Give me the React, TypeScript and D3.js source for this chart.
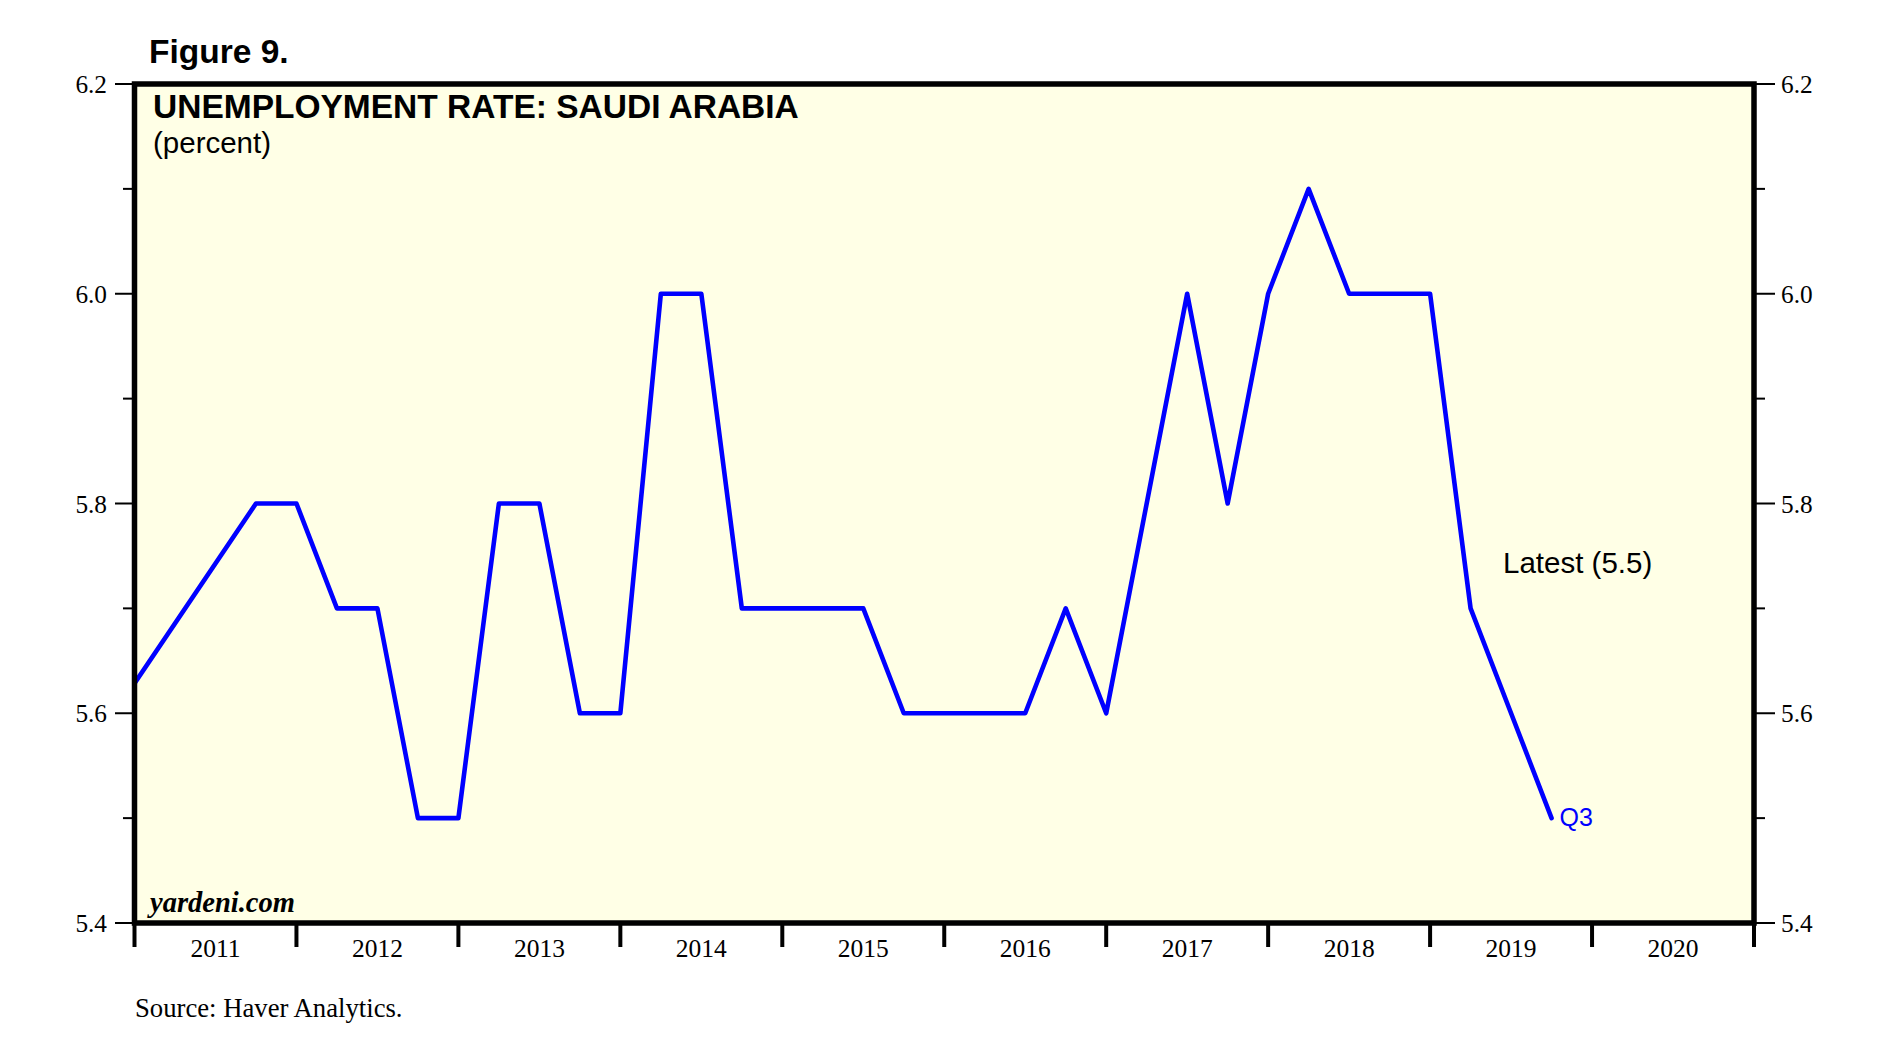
import React from "react";
import * as d3 from "d3";

const periods = [
  "2009-Q4", "2011-Q3", "2011-Q4", "2012-Q1", "2012-Q2", "2012-Q3", "2012-Q4",
  "2013-Q1", "2013-Q2", "2013-Q3", "2013-Q4", "2014-Q1", "2014-Q2", "2014-Q3",
  "2014-Q4", "2015-Q1", "2015-Q2", "2015-Q3", "2015-Q4", "2016-Q1", "2016-Q2",
  "2016-Q3", "2016-Q4", "2017-Q1", "2017-Q2", "2017-Q3", "2017-Q4", "2018-Q1",
  "2018-Q2", "2018-Q3", "2018-Q4", "2019-Q1", "2019-Q2", "2019-Q3",
];
const rates = [
  5.4, 5.8, 5.8, 5.7, 5.7, 5.5, 5.5,
  5.8, 5.8, 5.6, 5.6, 6.0, 6.0, 5.7,
  5.7, 5.7, 5.7, 5.6, 5.6, 5.6, 5.6,
  5.7, 5.6, 5.8, 6.0, 5.8, 6.0, 6.1,
  6.0, 6.0, 6.0, 5.7, 5.6, 5.5,
];
const yearLabels = ["2011", "2012", "2013", "2014", "2015", "2016", "2017", "2018", "2019", "2020"];
const yMajorTicks = [5.4, 5.6, 5.8, 6.0, 6.2];
const yMinorTicks = [5.5, 5.7, 5.9, 6.1];

const W = 1902;
const H = 1053;
const L = 134.5;
const R = 1754;
const T = 84;
const B = 923;

const SANS = "'Liberation Sans', Arial, sans-serif";
const SERIF = "'Liberation Serif', 'Times New Roman', serif";

function toX(p: string) {
  const [y, q] = p.split("-Q");
  return +y + +q / 4;
}

export default function App() {
  const x = d3.scaleLinear().domain([2011, 2021]).range([L, R]);
  const y = d3.scaleLinear().domain([5.4, 6.2]).range([B, T]);
  const pts: [number, number][] = periods.map((p, i) => [toX(p), rates[i]]);
  const line = d3
    .line<[number, number]>()
    .x((d) => x(d[0]))
    .y((d) => y(d[1]));
  const last = pts[pts.length - 1];
  const yearStarts = d3.range(2011, 2022);

  return (
    <svg
      width={W}
      height={H}
      style={{ position: "absolute", left: 0, top: 0, background: "#fff" }}
    >
      <defs>
        <clipPath id="plotclip">
          <rect x={L} y={T} width={R - L} height={B - T} />
        </clipPath>
      </defs>
      <rect x={L} y={T} width={R - L} height={B - T} fill="#FFFFE6" />

      <text x={149} y={63} fontFamily={SANS} fontWeight="bold" fontSize={33.5} fill="#000">
        Figure 9.
      </text>
      <text x={153} y={118} fontFamily={SANS} fontWeight="bold" fontSize={33.5} fill="#000">
        UNEMPLOYMENT RATE: SAUDI ARABIA
      </text>
      <text x={153} y={153} fontFamily={SANS} fontSize={29.5} fill="#000">
        (percent)
      </text>

      <path
        d={line(pts) || ""}
        fill="none"
        stroke="#0000FF"
        strokeWidth={4.6}
        strokeLinejoin="round"
        strokeLinecap="round"
        clipPath="url(#plotclip)"
      />

      <text x={1503} y={573} fontFamily={SANS} fontSize={29.5} fill="#000">
        Latest (5.5)
      </text>
      <text x={x(last[0]) + 8} y={y(last[1]) + 8} fontFamily={SANS} fontSize={25} fill="#0000FF">
        Q3
      </text>

      <text x={150} y={912} fontFamily={SERIF} fontWeight="bold" fontStyle="italic" fontSize={28.5} fill="#000">
        yardeni.com
      </text>

      {/* Y ticks left and right */}
      {yMajorTicks.map((v) => (
        <g key={"maj" + v}>
          <line x1={115} x2={L} y1={y(v)} y2={y(v)} stroke="#000" strokeWidth={2} />
          <line x1={R} x2={1775} y1={y(v)} y2={y(v)} stroke="#000" strokeWidth={2} />
          <text x={107} y={y(v)} dy="0.36em" textAnchor="end" fontFamily={SERIF} fontSize={25.3} fill="#000">
            {v.toFixed(1)}
          </text>
          <text x={1781} y={y(v)} dy="0.36em" textAnchor="start" fontFamily={SERIF} fontSize={25.3} fill="#000">
            {v.toFixed(1)}
          </text>
        </g>
      ))}
      {yMinorTicks.map((v) => (
        <g key={"min" + v}>
          <line x1={123} x2={L} y1={y(v)} y2={y(v)} stroke="#000" strokeWidth={2} />
          <line x1={R} x2={1765} y1={y(v)} y2={y(v)} stroke="#000" strokeWidth={2} />
        </g>
      ))}

      {/* X ticks */}
      {yearStarts.map((yr) => (
        <line key={"xt" + yr} x1={x(yr)} x2={x(yr)} y1={B} y2={947} stroke="#000" strokeWidth={4} />
      ))}
      {yearLabels.map((lab) => (
        <text
          key={"xl" + lab}
          x={x(+lab + 0.5)}
          y={957}
          textAnchor="middle"
          fontFamily={SERIF}
          fontSize={25.5}
          fill="#000"
        >
          {lab}
        </text>
      ))}

      {/* Frame */}
      <rect x={L} y={T} width={R - L} height={B - T} fill="none" stroke="#000" strokeWidth={5.5} />

      <text x={135} y={1017} fontFamily={SERIF} fontSize={26.7} fill="#000">
        Source: Haver Analytics.
      </text>
    </svg>
  );
}
